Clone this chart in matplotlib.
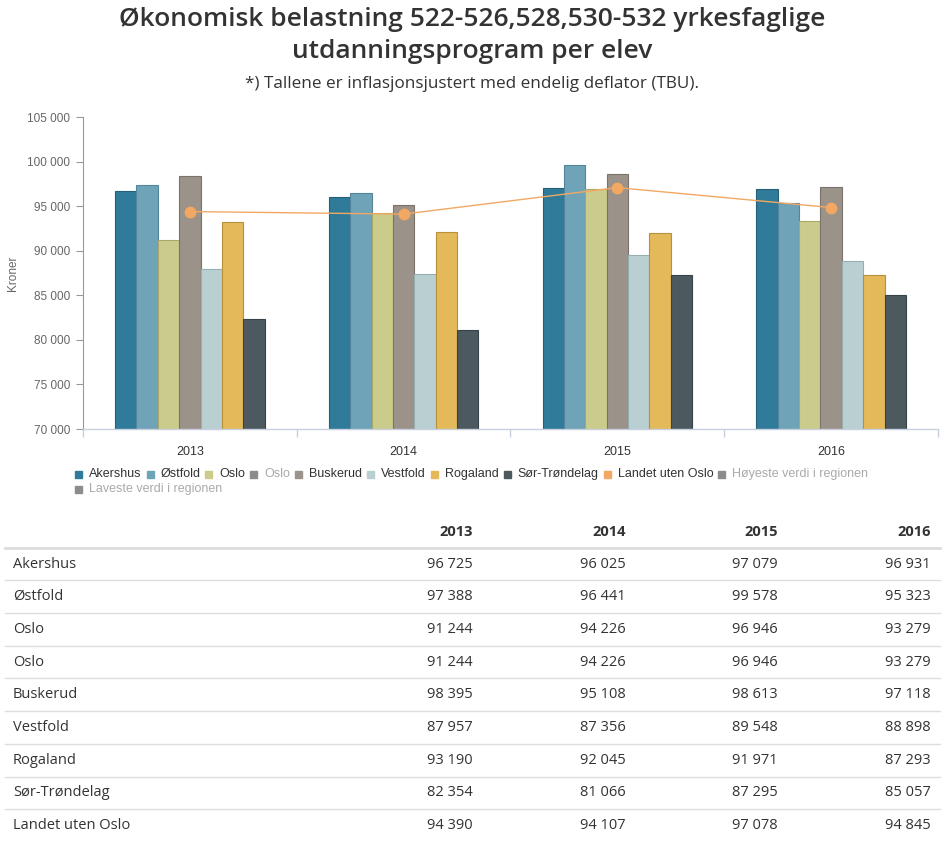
import matplotlib.pyplot as plt
from matplotlib.lines import Line2D
from matplotlib.patches import Rectangle
import numpy as np

years = ['2013', '2014', '2015', '2016']

# bar series (Oslo shown once in chart, twice in table)
regions = ['Akershus', 'Østfold', 'Oslo', 'Buskerud', 'Vestfold', 'Rogaland', 'Sør-Trøndelag']
akershus = [96725, 96025, 97079, 96931]
ostfold = [97388, 96441, 99578, 95323]
oslo = [91244, 94226, 96946, 93279]
buskerud = [98395, 95108, 98613, 97118]
vestfold = [87957, 87356, 89548, 88898]
rogaland = [93190, 92045, 91971, 87293]
sor_trondelag = [82354, 81066, 87295, 85057]
landet_uten_oslo = [94390, 94107, 97078, 94845]

bar_values = [akershus, ostfold, oslo, buskerud, vestfold, rogaland, sor_trondelag]
bar_colors = ['#2f7b99', '#6fa3b8', '#cbcb8b', '#9b928a', '#b9cfd2', '#e3b95a', '#4c5a60']
bar_edges = ['#245f77', '#55859a', '#a8a86c', '#7a726b', '#97aeb1', '#b8913c', '#37424a']
line_color = '#f2a862'

table_rows = [
    ('Akershus', akershus),
    ('Østfold', ostfold),
    ('Oslo', oslo),
    ('Oslo', oslo),
    ('Buskerud', buskerud),
    ('Vestfold', vestfold),
    ('Rogaland', rogaland),
    ('Sør-Trøndelag', sor_trondelag),
    ('Landet uten Oslo', landet_uten_oslo),
]

W, H = 945, 841
fig = plt.figure(figsize=(W / 100, H / 100), dpi=100)


def fx(px):
    return px / W


def fy(py):
    return 1 - py / H


# titles
fig.text(0.5, fy(19), 'Økonomisk belastning 522-526,528,530-532 yrkesfaglige',
         ha='center', va='center', fontsize=19, fontweight='semibold',
         family='Open Sans', color='#333333')
fig.text(0.5, fy(52), 'utdanningsprogram per elev',
         ha='center', va='center', fontsize=19, fontweight='semibold',
         family='Open Sans', color='#333333')
fig.text(0.5, fy(84), '*) Tallene er inflasjonsjustert med endelig deflator (TBU).',
         ha='center', va='center', fontsize=12.3, family='Open Sans', color='#333333')

# chart
ax = fig.add_axes([fx(83), fy(429), fx(938 - 83), (429 - 117) / H])
x = np.arange(len(years))
bw = 0.1
for i, (vals, c, ec) in enumerate(zip(bar_values, bar_colors, bar_edges)):
    ax.bar(x + (i - 3) * bw, vals, width=bw, color=c, edgecolor=ec, linewidth=0.8, zorder=2)
ax.plot(x, landet_uten_oslo, color=line_color, lw=1, marker='o', markersize=7.5,
        markerfacecolor=line_color, markeredgecolor=line_color, zorder=3)

ax.set_ylim(70000, 105000)
ax.set_xlim(-0.5, 3.5)
yt = np.arange(70000, 105001, 5000)
ax.set_yticks(yt)
ax.set_yticklabels(['{:,}'.format(v).replace(',', ' ') for v in yt],
                   fontsize=8.5, color='#666666', family='Liberation Sans')
ax.set_xticks(x)
ax.set_xticklabels(years, fontsize=9, color='#333333', family='Liberation Sans')
ax.set_xticks(np.arange(-0.5, 3.6, 1), minor=True)
ax.tick_params(axis='x', which='major', length=0, pad=12)
ax.tick_params(axis='x', which='minor', length=6, color='#c8d0e0', width=1)
ax.tick_params(axis='y', length=5, color='#999999', width=0.8, pad=4)
for s in ['top', 'right']:
    ax.spines[s].set_visible(False)
ax.spines['left'].set_color('#999999')
ax.spines['left'].set_linewidth(0.8)
ax.spines['bottom'].set_color('#c8d0e0')
ax.spines['bottom'].set_linewidth(1)
ax.set_ylabel('Kroner', fontsize=8.5, color='#666666', family='Liberation Sans')
ax.yaxis.set_label_coords(-(83 - 19) / (938 - 83), 0.5)

# legend, flowing like the original
legend_items = [
    ('Akershus', bar_colors[0], '#333333'),
    ('Østfold', bar_colors[1], '#333333'),
    ('Oslo', bar_colors[2], '#333333'),
    ('Oslo', '#8c8c8c', '#aaaaaa'),
    ('Buskerud', bar_colors[3], '#333333'),
    ('Vestfold', bar_colors[4], '#333333'),
    ('Rogaland', bar_colors[5], '#333333'),
    ('Sør-Trøndelag', bar_colors[6], '#333333'),
    ('Landet uten Oslo', line_color, '#333333'),
    ('Høyeste verdi i regionen', '#8c8c8c', '#aaaaaa'),
    ('Laveste verdi i regionen', '#8c8c8c', '#aaaaaa'),
]
renderer = fig.canvas.get_renderer()
lx, ly = 75, 474
for k, (label, mc, tc) in enumerate(legend_items):
    if k == 10:
        lx, ly = 75, 489
    fig.patches.append(Rectangle((fx(lx), fy(ly + 4)), fx(7), 7 / H, color=mc,
                                 transform=fig.transFigure, figure=fig))
    t = fig.text(fx(lx + 14), fy(ly), label, ha='left', va='center', fontsize=9,
                 family='Liberation Sans', color=tc)
    bb = t.get_window_extent(renderer)
    lx = bb.x1 + 5

# table
col_right = [473, 626, 778, 931]
fs = 10.5
for yr, cx in zip(years, col_right):
    fig.text(fx(cx), fy(532), yr, ha='right', va='center', fontsize=fs,
             fontweight='bold', family='Open Sans', color='#333333')
fig.add_artist(Line2D([fx(5), fx(940)], [fy(548), fy(548)], color='#dddddd', lw=2,
                      transform=fig.transFigure))
row_h = 32.7
for r, (name, vals) in enumerate(table_rows):
    yc = 564 + r * row_h
    fig.text(fx(13), fy(yc), name, ha='left', va='center', fontsize=fs,
             family='Open Sans', color='#333333')
    for v, cx in zip(vals, col_right):
        fig.text(fx(cx), fy(yc), '{:,}'.format(v).replace(',', ' '), ha='right',
                 va='center', fontsize=fs, family='Open Sans', color='#333333')
    if r < len(table_rows) - 1:
        yl = yc + row_h / 2
        fig.add_artist(Line2D([fx(5), fx(940)], [fy(yl), fy(yl)], color='#dddddd',
                              lw=1, transform=fig.transFigure))

fig.savefig('out.png', dpi=100)
